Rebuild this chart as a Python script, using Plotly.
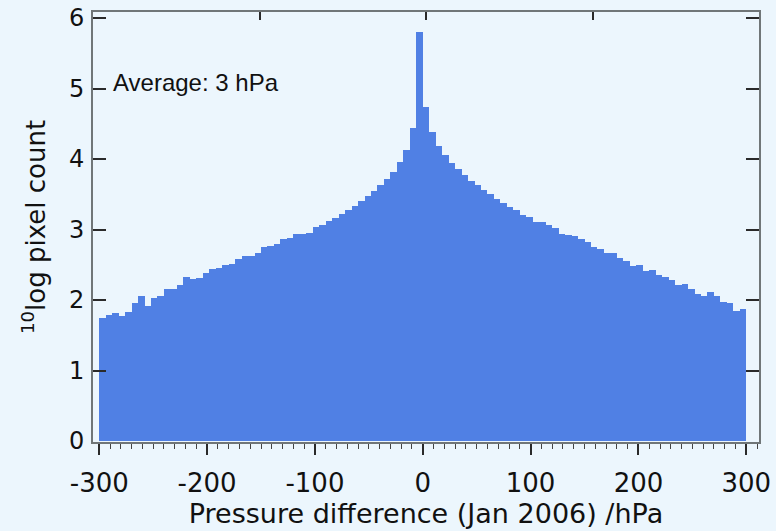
import numpy as np
import plotly.graph_objects as go

# Histogram of pressure differences, 6 hPa bins from -300 to +300 hPa
bin_width = 6
bin_centers = np.arange(-300 + bin_width / 2, 300, bin_width)

# 10-log of pixel count per bin
log_counts = [
    1.74, 1.79, 1.82, 1.78, 1.83, 1.96, 2.05, 1.91, 2.03, 2.06,
    2.15, 2.16, 2.22, 2.33, 2.30, 2.31, 2.38, 2.44, 2.45, 2.50,
    2.51, 2.58, 2.63, 2.63, 2.67, 2.75, 2.77, 2.79, 2.86, 2.88,
    2.93, 2.94, 2.95, 3.03, 3.07, 3.12, 3.16, 3.22, 3.27, 3.34,
    3.41, 3.48, 3.55, 3.63, 3.72, 3.82, 3.96, 4.13, 4.44, 5.80,
    4.74, 4.38, 4.19, 4.06, 3.95, 3.86, 3.77, 3.69, 3.63, 3.56,
    3.50, 3.43, 3.38, 3.32, 3.27, 3.21, 3.18, 3.11, 3.10, 3.07,
    3.02, 2.94, 2.92, 2.91, 2.86, 2.82, 2.75, 2.72, 2.66, 2.66,
    2.59, 2.55, 2.48, 2.49, 2.41, 2.43, 2.35, 2.32, 2.28, 2.22,
    2.23, 2.15, 2.08, 2.05, 2.11, 2.05, 1.97, 1.96, 1.84, 1.87,
]

x_tick_vals = [-300, -200, -100, 0, 100, 200, 300]
x_tick_text = ["-300", "-200", "-100", "0", "100", "200", "300"]
y_tick_vals = [0, 1, 2, 3, 4, 5, 6]
y_tick_text = ["0", "1", "2", "3", "4", "5", "6"]
top_tick_vals = [0, 1, 2, 3, 4]
average_text = "Average: 3 hPa"

BAR = "#5080E4"
BG = "#ECF6FD"
AXIS = "#707678"
TICK = "#2a2a2a"

fig = go.Figure()
fig.add_trace(go.Bar(
    x=bin_centers, y=log_counts, width=bin_width,
    marker=dict(color=BAR, line=dict(width=0)),
    hoverinfo="x+y", showlegend=False,
))

# empty trace so the top (quarter-division) axis gets drawn
fig.add_trace(go.Scatter(x=[0, 4], y=[None, None], xaxis="x2", yaxis="y",
                         mode="lines", showlegend=False, hoverinfo="skip"))

fig.update_layout(
    width=776, height=531,
    margin=dict(l=93, r=17, t=12, b=89, autoexpand=False),
    paper_bgcolor=BG, plot_bgcolor=BG,
    bargap=0,
    xaxis=dict(
        range=[-305.8, 311.8], tickvals=x_tick_vals, ticktext=x_tick_text,
        ticks="outside", ticklen=11, tickwidth=1.5, tickcolor=TICK,
        minor=dict(dtick=10, tick0=0, ticks="outside", ticklen=5,
                   tickwidth=1, tickcolor="#444"),
        showline=True, linecolor=AXIS, linewidth=2, mirror=False,
        showgrid=False, zeroline=False, automargin=False,
        tickfont=dict(family="DejaVu Sans", size=26, color="#111"),
        ticklabelstandoff=6,
        title=dict(text="Pressure difference (Jan 2006) /hPa",
                   font=dict(family="DejaVu Sans", size=27, color="#111"),
                   standoff=4),
    ),
    xaxis2=dict(
        type="linear", overlaying="x", side="top", anchor="y",
        range=[0, 4], tickmode="array", tickvals=top_tick_vals,
        ticks="inside", ticklen=8, tickwidth=1.5, tickcolor=TICK,
        showticklabels=False, showline=True, linecolor=AXIS, linewidth=2,
        showgrid=False, zeroline=False, automargin=False,
    ),
    yaxis=dict(
        range=[-0.014, 6.085], tickvals=y_tick_vals, ticktext=y_tick_text,
        ticks="inside", ticklen=13, tickwidth=1.5, tickcolor=TICK,
        showline=True, linecolor=AXIS, linewidth=2, mirror="ticks",
        showgrid=False, zeroline=False, automargin=False,
        tickfont=dict(family="DejaVu Sans", size=24, color="#111"),
        ticklabelstandoff=2,
        title=dict(text="<sup>10</sup>log pixel count",
                   font=dict(family="DejaVu Sans", size=26, color="#111"),
                   standoff=16),
    ),
    annotations=[dict(
        x=-289.4, y=5.08, xref="x", yref="y", text=average_text,
        showarrow=False, xanchor="left", yanchor="middle",
        font=dict(family="Liberation Sans", size=24, color="#111"),
    )],
)

fig.write_html("out.html")
